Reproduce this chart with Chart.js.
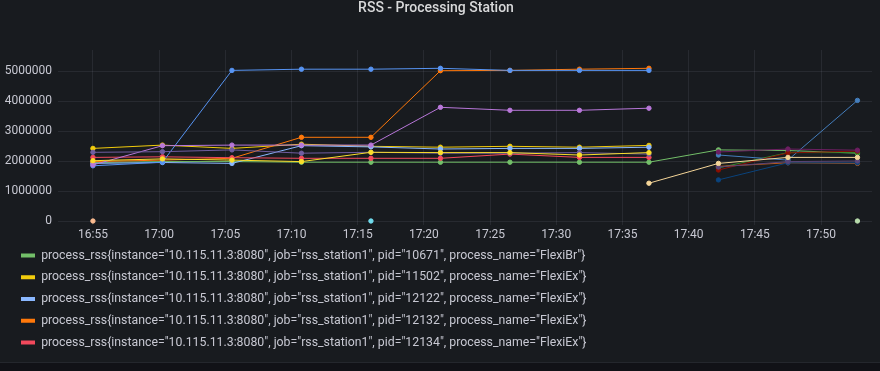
<!DOCTYPE html>
<html>
<head>
<meta charset="utf-8">
<script src="https://cdn.jsdelivr.net/npm/chart.js@4.4.0/dist/chart.umd.min.js"></script>
<style>
  html, body { margin: 0; padding: 0; background: #111217; }
  #panel { position: absolute; left: 0; top: 0; width: 880px; height: 362px; background: #181b1f; border-bottom: 1px solid #24272d; }
  canvas { display: block; }
</style>
</head>
<body>
<div id="panel"><canvas id="chart" width="880" height="362"></canvas></div>
<script>
// --- Datos ---
// tiempo en minutos desde las 16:00 (una muestra cada ~5m15s)
const times = [55, 60.25, 65.5, 70.75, 76, 81.25, 86.5, 91.75, 97, 102.25, 107.5, 112.75];
const xTicks = [55, 60, 65, 70, 75, 80, 85, 90, 95, 100, 105, 110];
const yTicks = [0, 1000000, 2000000, 3000000, 4000000, 5000000];

const seriesNames = [
    'process_rss{instance="10.115.11.3:8080", job="rss_station1", pid="10671", process_name="FlexiBr"}',
    'process_rss{instance="10.115.11.3:8080", job="rss_station1", pid="11502", process_name="FlexiEx"}',
    'process_rss{instance="10.115.11.3:8080", job="rss_station1", pid="12122", process_name="FlexiEx"}',
    'process_rss{instance="10.115.11.3:8080", job="rss_station1", pid="12132", process_name="FlexiEx"}',
    'process_rss{instance="10.115.11.3:8080", job="rss_station1", pid="12134", process_name="FlexiEx"}',
    'process_rss{pid="12140"}', 'process_rss{pid="12141"}', 'process_rss{pid="12150"}',
    'process_rss{pid="13001"}', 'process_rss{pid="13002"}', 'process_rss{pid="13010"}',
    'process_rss{pid="13011"}', 'process_rss{pid="13012"}', 'process_rss{pid="13013"}',
    'process_rss{pid="13014"}', 'process_rss{pid="13015"}', 'process_rss{pid="13020"}',
    'process_rss{pid="13021"}', 'process_rss{pid="13030"}', 'process_rss{pid="13031"}'
];

const colors = ['#73BF69', '#F2CC0C', '#8AB8FF', '#FF780A', '#F2495C', '#5794F2', '#B877D9', '#705DA0',
    '#37872D', '#FADE2A', '#447EBC', '#C15C17', '#890F02', '#0A437C', '#6D1F62', '#584477',
    '#B7DBAB', '#F4D598', '#70DBED', '#F9BA8F'];

// valores en millones de bytes (null = sin muestra)
const s0  = [1.95, 1.98, 1.98, 1.96, 1.96, 1.96, 1.96, 1.96, 1.96, 2.37, 2.35, 2.26];
const s1  = [2.42, 2.53, 2.42, 2.56, 2.49, 2.46, 2.49, 2.46, 2.52, null, null, null];
const s2  = [1.92, 1.95, 1.92, 2.51, 2.47, 2.40, 2.42, 2.42, 2.46, null, null, null];
const s3  = [1.98, 2.03, 2.09, 2.79, 2.79, 5.01, 5.02, 5.06, 5.09, null, null, null];
const s4  = [2.12, 2.14, 2.11, 2.09, 2.09, 2.09, 2.23, 2.12, 2.12, null, null, null];
const s5  = [1.84, 1.96, 5.02, 5.06, 5.06, 5.09, 5.02, 5.02, 5.02, null, null, null];
const s6  = [1.87, 2.51, 2.53, 2.53, 2.53, 3.79, 3.69, 3.69, 3.76, null, null, null];
const s7  = [2.29, 2.31, 2.37, 2.26, 2.29, 2.26, 2.26, 2.28, 2.23, null, null, null];
const s8  = [null, null, null, null, null, null, null, null, null, 1.77, 2.28, 2.28];
const s9  = [2.01, 2.07, 2.03, 1.98, 2.29, 2.28, 2.28, 2.20, 2.28, null, null, null];
const s10 = [null, null, null, null, null, null, null, null, null, 2.20, 2.03, 4.02];
const s11 = [null, null, null, null, null, null, null, null, null, 1.82, 1.94, 1.92];
const s12 = [null, null, null, null, null, null, null, null, null, 1.70, 2.27, 2.33];
const s13 = [null, null, null, null, null, null, null, null, null, 1.37, 1.94, 1.94];
const s14 = [null, null, null, null, null, null, null, null, null, 2.30, 2.40, 2.36];
const s15 = [null, null, null, null, null, null, null, null, null, 1.80, 1.98, 2.00];
const s16 = [null, null, null, null, null, null, null, null, null, null, null, 0];
const s17 = [null, null, null, null, null, null, null, null, 1.26, 1.92, 2.12, 2.12];
const s18 = [null, null, null, null, 0, null, null, null, null, null, null, null];
const s19 = [0, null, null, null, null, null, null, null, null, null, null, null];

const allSeries = [s0, s1, s2, s3, s4, s5, s6, s7, s8, s9, s10, s11, s12, s13, s14, s15, s16, s17, s18, s19];

// --- Gráfico ---
const textColor = '#c7c8d2';
const gridColor = 'rgba(204, 204, 220, 0.09)';

const datasets = allSeries.map((values, i) => ({
    label: seriesNames[i],
    data: values.map((v, k) => ({ x: times[k], y: v === null ? null : v * 1000000 })),
    borderColor: colors[i],
    backgroundColor: colors[i],
    pointBackgroundColor: colors[i],
    pointBorderColor: colors[i],
    borderWidth: 1,
    pointRadius: 2.2,
    pointBorderWidth: 1,
    fill: false,
    spanGaps: false,
    tension: 0,
    order: allSeries.length - i
}));

function hhmm(v) {
    const h = 16 + Math.floor(v / 60);
    const m = Math.round(v % 60);
    return h + ':' + String(m).padStart(2, '0');
}

// la leyenda va un poco más a la derecha que el eje Y
const legendOffset = {
    id: 'legendOffset',
    afterLayout(chart) {
        chart.legend.left = 11.55;
    }
};

Chart.defaults.font.family = 'Roboto, "Noto Sans", sans-serif';
Chart.defaults.font.size = 12;
Chart.defaults.color = textColor;

new Chart(document.getElementById('chart').getContext('2d'), {
    type: 'line',
    data: { datasets: datasets },
    plugins: [legendOffset],
    options: {
        responsive: false,
        animation: false,
        devicePixelRatio: 1,
        layout: { padding: { left: 0, right: 8, top: 0, bottom: 3.4 } },
        plugins: {
            title: {
                display: true,
                text: 'RSS - Processing Station',
                color: '#d8d9da',
                font: { size: 14, weight: '500' },
                padding: { top: 0, bottom: 33.2 }
            },
            legend: {
                position: 'bottom',
                align: 'start',
                labels: {
                    boxWidth: 14,
                    boxHeight: 4,
                    padding: 9.45,
                    color: textColor,
                    font: { size: 12.3 },
                    filter: item => item.datasetIndex < 5,
                    sort: (a, b) => a.datasetIndex - b.datasetIndex,
                    generateLabels: chart => Chart.defaults.plugins.legend.labels.generateLabels(chart)
                        .map(item => Object.assign(item, { lineWidth: 0 }))
                }
            },
            tooltip: { enabled: false }
        },
        scales: {
            x: {
                type: 'linear',
                min: 52.36,
                max: 113.85,
                afterBuildTicks: scale => { scale.ticks = xTicks.map(v => ({ value: v })); },
                afterFit: scale => { scale.height = 14.85; },
                ticks: {
                    padding: 3,
                    maxRotation: 0,
                    autoSkip: false,
                    callback: v => hhmm(v)
                },
                grid: { color: gridColor, drawTicks: false },
                border: { display: false }
            },
            y: {
                min: -133333,
                max: 5700000,
                afterBuildTicks: scale => { scale.ticks = yTicks.map(v => ({ value: v })); },
                afterFit: scale => { scale.width = 58; },
                ticks: {
                    padding: 6,
                    callback: v => String(v)
                },
                grid: { color: gridColor, drawTicks: false },
                border: { display: false }
            }
        }
    }
});
</script>
</body>
</html>
